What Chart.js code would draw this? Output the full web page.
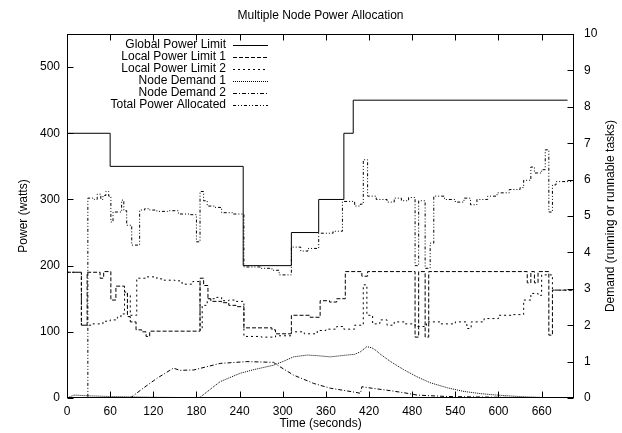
<!DOCTYPE html>
<html>
<head>
<meta charset="utf-8">
<script src="https://cdn.jsdelivr.net/npm/chart.js@4/dist/chart.umd.min.js"></script>
<style>
  html, body { margin: 0; padding: 0; background: #fff; }
  canvas { display: block; }
</style>
</head>
<body>
<canvas id="chart" width="622" height="433"></canvas>
<script>
// step times (seconds) and values
const globalT = [0, 60, 245, 312, 350, 385, 398, 696];
const globalP = [400, 350, 200, 250, 300, 400, 450, 450];

const local1T = [0, 20, 28, 46, 51, 61, 68, 80, 84, 88, 96, 104, 110, 115, 185, 190, 196, 200, 215, 225, 235, 246, 285, 290, 312, 338, 352, 365, 375, 387, 410, 418, 484, 489, 498, 503, 640, 645, 650, 655, 670, 675, 705];
const local1P = [190, 110, 190, 181, 191, 148, 169, 160, 123, 115, 103, 100, 93, 101, 181, 170, 150, 146, 144, 140, 138, 106, 103, 97, 125, 122, 147, 145, 150, 191, 184, 191, 92, 191, 92, 191, 174, 191, 174, 191, 95, 163, 163];

const local2T = [0, 20, 35, 50, 60, 70, 75, 80, 84, 88, 93, 97, 110, 125, 135, 150, 160, 175, 185, 188, 195, 205, 215, 225, 235, 246, 270, 290, 312, 330, 348, 360, 375, 385, 400, 412, 417, 425, 435, 445, 455, 470, 484, 500, 520, 540, 556, 562, 580, 600, 620, 635, 645, 655, 660, 675, 705];
const local2P = [190, 110, 112, 116, 118, 122, 127, 158, 155, 125, 125, 181, 183, 180, 178, 177, 172, 176, 103, 140, 150, 152, 147, 148, 146, 93, 92, 94, 100, 97, 102, 104, 108, 104, 110, 171, 125, 112, 118, 110, 115, 112, 108, 115, 112, 115, 105, 115, 120, 125, 126, 148, 158, 155, 186, 163, 163];

const demand1T = [0, 10, 30, 60, 90, 120, 180, 185, 200, 213, 225, 241, 260, 287, 300, 315, 334, 350, 366, 389, 400, 408, 417, 424, 430, 436, 450, 468, 487, 505, 529, 552, 575, 598, 621, 640, 668, 705];
const demand1D = [0, 0.08, 0.06, 0.04, 0.03, 0.02, 0.01, 0.02, 0.25, 0.45, 0.55, 0.68, 0.78, 0.9, 1.0, 1.13, 1.18, 1.16, 1.13, 1.18, 1.2, 1.27, 1.41, 1.38, 1.3, 1.2, 1.0, 0.78, 0.58, 0.42, 0.28, 0.18, 0.12, 0.08, 0.05, 0.03, 0.01, 0];

const demand2T = [0, 88, 106, 125, 148, 157, 176, 213, 250, 287, 296, 315, 343, 366, 400, 408, 410, 420, 450, 470, 487, 530, 600, 705];
const demand2D = [0, 0, 0.27, 0.54, 0.82, 0.76, 0.77, 0.95, 1.0, 0.98, 0.86, 0.63, 0.4, 0.27, 0.16, 0.13, 0.31, 0.28, 0.2, 0.14, 0.08, 0.04, 0.02, 0];

const totalT = [0, 29, 38, 42, 47, 50, 54, 58, 61, 64, 76, 79, 83, 90, 101, 108, 115, 125, 140, 155, 170, 180, 185, 190, 195, 205, 215, 230, 246, 270, 285, 295, 312, 325, 335, 350, 370, 383, 400, 408, 412, 418, 430, 445, 455, 465, 475, 484, 489, 498, 505, 510, 525, 540, 552, 561, 570, 585, 598, 615, 630, 635, 645, 650, 660, 665, 670, 675, 680, 705];
const totalP = [0, 302, 300, 308, 300, 306, 312, 305, 266, 281, 299, 283, 261, 231, 284, 286, 284, 282, 283, 278, 277, 236, 312, 298, 290, 288, 280, 278, 198, 196, 193, 186, 228, 222, 226, 249, 252, 297, 290, 293, 360, 305, 300, 296, 302, 298, 303, 200, 298, 196, 234, 305, 300, 296, 302, 292, 300, 305, 310, 315, 318, 329, 349, 340, 345, 375, 281, 322, 327, 327];

const pts = (ts, vs) => ts.map((t, i) => ({ x: t, y: vs[i] }));

function series(label, ts, vs, dash, axis, stepped) {
  return {
    label: label,
    data: pts(ts, vs),
    yAxisID: axis,
    borderColor: '#000',
    borderWidth: 1,
    borderDash: dash,
    pointRadius: 0,
    fill: false,
    stepped: stepped,
    tension: 0
  };
}

const FONT = '"Liberation Sans", Arial, Helvetica, sans-serif';
Chart.defaults.font.family = FONT;
Chart.defaults.font.size = 12;
Chart.defaults.color = '#000';

// gnuplot-like frame, inward ticks, titles and key
const gnuplotDecor = {
  id: 'gnuplotDecor',
  afterDraw(chart) {
    const ctx = chart.ctx;
    const a = chart.chartArea;
    const xs = chart.scales.x, ys = chart.scales.y, y2 = chart.scales.y2;
    const L = Math.round(a.left) + 0.5, R = Math.round(a.right) - 0.5;
    const T = Math.round(a.top) + 0.5, B = Math.round(a.bottom) - 0.5;
    ctx.save();
    ctx.strokeStyle = '#000';
    ctx.lineWidth = 1;
    ctx.setLineDash([]);
    ctx.strokeRect(L, T, R - L, B - T);
    ctx.beginPath();
    for (let v = 0; v <= 660; v += 60) {
      const px = Math.round(xs.getPixelForValue(v)) + 0.5;
      ctx.moveTo(px, B); ctx.lineTo(px, B - 6);
      ctx.moveTo(px, T); ctx.lineTo(px, T + 6);
    }
    for (let v = 0; v <= 500; v += 100) {
      const py = Math.round(ys.getPixelForValue(v)) + 0.5;
      ctx.moveTo(L, py); ctx.lineTo(L + 6, py);
    }
    for (let v = 0; v <= 10; v++) {
      const py = Math.round(y2.getPixelForValue(v)) + 0.5;
      ctx.moveTo(R, py); ctx.lineTo(R - 6, py);
    }
    ctx.stroke();

    ctx.fillStyle = '#000';
    ctx.font = '12px ' + FONT;
    ctx.textAlign = 'center';
    ctx.textBaseline = 'middle';
    ctx.fillText('Multiple Node Power Allocation', (a.left + a.right) / 2, 16);
    ctx.fillText('Time (seconds)', (a.left + a.right) / 2, 424);

    ctx.save();
    ctx.translate(24, (a.top + a.bottom) / 2);
    ctx.rotate(-Math.PI / 2);
    ctx.fillText('Power (watts)', 0, 0);
    ctx.restore();

    ctx.save();
    ctx.translate(611, (a.top + a.bottom) / 2);
    ctx.rotate(-Math.PI / 2);
    ctx.fillText('Demand (running or runnable tasks)', 0, 0);
    ctx.restore();

    // key
    chart.data.datasets.forEach((ds, i) => {
      const y = 45 + 12 * i;
      ctx.textAlign = 'right';
      ctx.fillText(ds.label, 226, y);
      ctx.beginPath();
      ctx.setLineDash(ds.borderDash);
      ctx.moveTo(233, Math.round(y) + 0.5);
      ctx.lineTo(268, Math.round(y) + 0.5);
      ctx.stroke();
    });
    ctx.restore();
  }
};

new Chart(document.getElementById('chart').getContext('2d'), {
  type: 'line',
  data: {
    datasets: [
      series('Global Power Limit', globalT, globalP, [], 'y', true),
      series('Local Power Limit 1', local1T, local1P, [4, 2], 'y', true),
      series('Local Power Limit 2', local2T, local2P, [2, 3], 'y', true),
      series('Node Demand 1', demand1T, demand1D, [1, 1], 'y2', false),
      series('Node Demand 2', demand2T, demand2D, [4, 2, 1, 2], 'y2', false),
      series('Total Power Allocated', totalT, totalP, [3, 2, 1, 2, 1, 2], 'y', true)
    ]
  },
  options: {
    responsive: false,
    animation: false,
    layout: { padding: { top: 34, left: 0, right: 0, bottom: 0 } },
    plugins: { legend: { display: false }, tooltip: { enabled: false }, title: { display: false } },
    scales: {
      x: {
        type: 'linear', position: 'bottom', min: 0, max: 705,
        afterFit(s) { s.height = 35; },
        grid: { display: false, drawTicks: false },
        border: { display: false },
        ticks: { stepSize: 60, includeBounds: false, padding: 6, maxRotation: 0, autoSkip: false }
      },
      y: {
        type: 'linear', position: 'left', min: 0, max: 550,
        afterFit(s) { s.width = 67; },
        grid: { display: false, drawTicks: false },
        border: { display: false },
        ticks: { stepSize: 100, includeBounds: false, padding: 7 }
      },
      y2: {
        type: 'linear', position: 'right', min: 0, max: 10,
        afterFit(s) { s.width = 48; },
        grid: { display: false, drawTicks: false },
        border: { display: false },
        ticks: { stepSize: 1, padding: 10 }
      }
    }
  },
  plugins: [gnuplotDecor]
});
</script>
</body>
</html>
